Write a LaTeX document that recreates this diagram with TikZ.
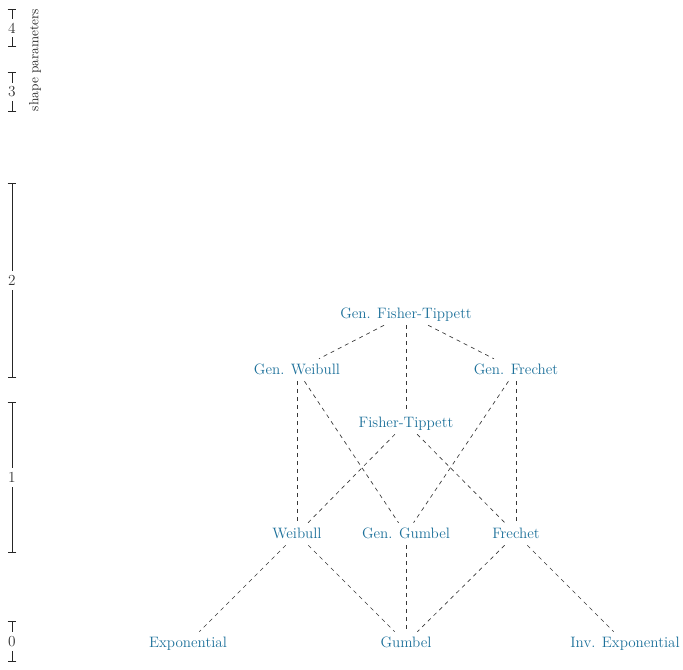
\documentclass[tikz,border=0pt]{standalone}
\usetikzlibrary{arrows.meta}
\definecolor{disttext}{RGB}{28,112,154}
\definecolor{edgegray}{RGB}{55,55,55}
\begin{document}
\begin{tikzpicture}[x=0.75pt,y=-0.75pt,
  dist/.style={text=disttext,font=\fontsize{11.3}{13}\selectfont,inner sep=3pt,text height=8.5pt,text depth=2pt},
  rel/.style={draw=edgegray,dashed,line width=0.5pt},
  axisbar/.style={draw=black!85,line width=0.6pt,{Bar[width=6.5pt]}-{Bar[width=6.5pt]}},
  axislabel/.style={fill=white,font=\fontsize{11.5}{13}\selectfont,text=black!80,inner sep=3pt}
]
\useasboundingbox (0,0) rectangle (683,669);

% axis
\coordinate (t4) at (12,9);   \coordinate (b4) at (12,47);
\coordinate (t3) at (12,72);  \coordinate (b3) at (12,112);
\coordinate (t2) at (12,183); \coordinate (b2) at (12,378);
\coordinate (t1) at (12,402); \coordinate (b1) at (12,553);
\coordinate (t0) at (12,621); \coordinate (b0) at (12,662);
\draw[axisbar] (t4) -- node[axislabel] (l4) {4} (b4);
\draw[axisbar] (t3) -- node[axislabel] (l3) {3} (b3);
\draw[axisbar] (t2) -- node[axislabel] (l2) {2} (b2);
\draw[axisbar] (t1) -- node[axislabel] (l1) {1} (b1);
\draw[axisbar] (t0) -- node[axislabel] (l0) {0} (b0);
\node[rotate=90,font=\fontsize{10}{12}\selectfont,text=black!85] (sp) at (35,60) {shape parameters};

% distributions
\node[dist] (gft) at (406,314) {Gen. Fisher-Tippett};
\node[dist] (gw)  at (297,370) {Gen. Weibull};
\node[dist] (gf)  at (516,370) {Gen. Frechet};
\node[dist] (ft)  at (406,423) {Fisher-Tippett};
\node[dist] (w)   at (297,534) {Weibull};
\node[dist] (gg)  at (406,534) {Gen. Gumbel};
\node[dist] (f)   at (516,534) {Frechet};
\node[dist] (ex)  at (188,643) {Exponential};
\node[dist] (gu)  at (406,643) {Gumbel};
\node[dist] (ie)  at (625,643) {Inv. Exponential};

% relations
\draw[rel] (gft) -- (gw);
\draw[rel] (gft) -- (gf);
\draw[rel] (gft) -- (ft);
\draw[rel] (gw) -- (w);
\draw[rel] (gw) -- (gg);
\draw[rel] (gf) -- (f);
\draw[rel] (gf) -- (gg);
\draw[rel] (ft) -- (w);
\draw[rel] (ft) -- (f);
\draw[rel] (w) -- (ex);
\draw[rel] (w) -- (gu);
\draw[rel] (gg) -- (gu);
\draw[rel] (f) -- (gu);
\draw[rel] (f) -- (ie);
\end{tikzpicture}
\end{document}
